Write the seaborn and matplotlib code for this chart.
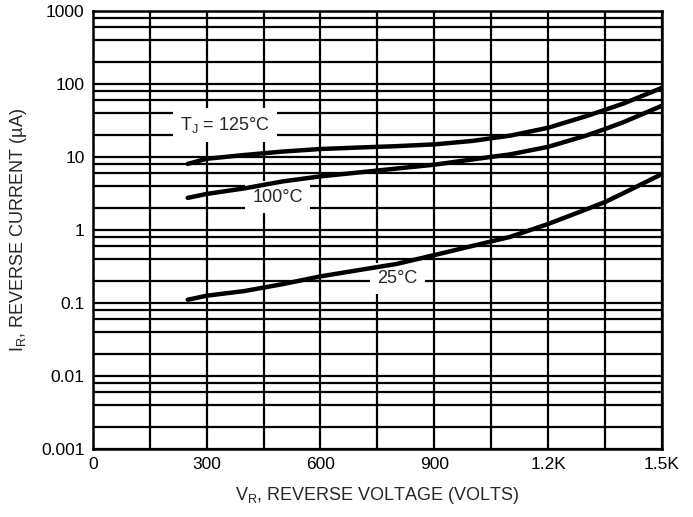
import numpy as np
import pandas as pd
import matplotlib
matplotlib.use('Agg')
import matplotlib.pyplot as plt
import matplotlib.ticker as mticker
import seaborn as sns

# 데이터
volts = [250, 300, 400, 500, 600, 700, 800, 900, 1000, 1100, 1200, 1300, 1350, 1400, 1500]
i_125 = [8.0, 9.4, 10.6, 11.8, 12.8, 13.4, 14.0, 14.8, 16.5, 19.5, 25.0, 36.0, 44.0, 54.0, 88.0]
i_100 = [2.74, 3.1, 3.7, 4.6, 5.4, 6.1, 6.9, 7.8, 9.2, 10.8, 13.7, 19.5, 24.0, 30.0, 50.0]
i_25 = [0.11, 0.125, 0.145, 0.18, 0.23, 0.28, 0.34, 0.45, 0.60, 0.80, 1.2, 1.9, 2.4, 3.2, 5.8]

x_ticks = [0, 300, 600, 900, 1200, 1500]
x_labels = ['0', '300', '600', '900', '1.2K', '1.5K']
y_ticks = [0.001, 0.01, 0.1, 1, 10, 100, 1000]
y_labels = ['0.001', '0.01', '0.1', '1', '10', '100', '1000']

df = pd.DataFrame({
    'V': volts * 3,
    'I': i_125 + i_100 + i_25,
    'T': ['125'] * len(volts) + ['100'] * len(volts) + ['25'] * len(volts),
})

sns.set_style('white')
plt.rcParams['font.family'] = ['Liberation Sans', 'DejaVu Sans']
plt.rcParams['mathtext.fontset'] = 'custom'
plt.rcParams['mathtext.rm'] = 'Liberation Sans'

fig = plt.figure(figsize=(6.93, 5.17), dpi=100)
ax = fig.add_axes([0.134, 0.132, 0.821, 0.847])

sns.lineplot(data=df, x='V', y='I', hue='T', palette=['black'] * 3,
             linewidth=3.2, legend=False, ax=ax, zorder=3)

ax.set_yscale('log')
ax.set_xlim(0, 1500)
ax.set_ylim(0.001, 1000)

ax.set_xticks(x_ticks)
ax.set_xticklabels(x_labels)
ax.xaxis.set_minor_locator(mticker.MultipleLocator(150))
ax.set_yticks(y_ticks)
ax.set_yticklabels(y_labels)
ax.yaxis.set_minor_locator(mticker.LogLocator(base=10, subs=[2, 4, 6, 8]))
ax.yaxis.set_minor_formatter(mticker.NullFormatter())

ax.grid(True, which='both', color='black', linewidth=1.6)
ax.tick_params(which='both', length=0, labelsize=12.5, colors='black', pad=6)
for s in ax.spines.values():
    s.set_color('black')
    s.set_linewidth(1.8)

ax.set_xlabel(r'V$_\mathregular{R}$, REVERSE VOLTAGE (VOLTS)', fontsize=13, labelpad=9)
ax.set_ylabel(r'I$_\mathregular{R}$, REVERSE CURRENT (µA)', fontsize=13, labelpad=9)

# 라벨 박스는 곡선 아래에 그림
box = dict(facecolor='white', edgecolor='none', boxstyle='square,pad=0.4')
ax.text(348, 27.4, r'T$_\mathregular{J}$ = 125°C', fontsize=13, ha='center', va='center', bbox=box, zorder=2.5)
ax.text(488, 2.8, '100°C', fontsize=13, ha='center', va='center', bbox=box, zorder=2.5)
ax.text(803, 0.215, '25°C', fontsize=13, ha='center', va='center', bbox=box, zorder=2.5)

fig.savefig('out.png', dpi=100)
